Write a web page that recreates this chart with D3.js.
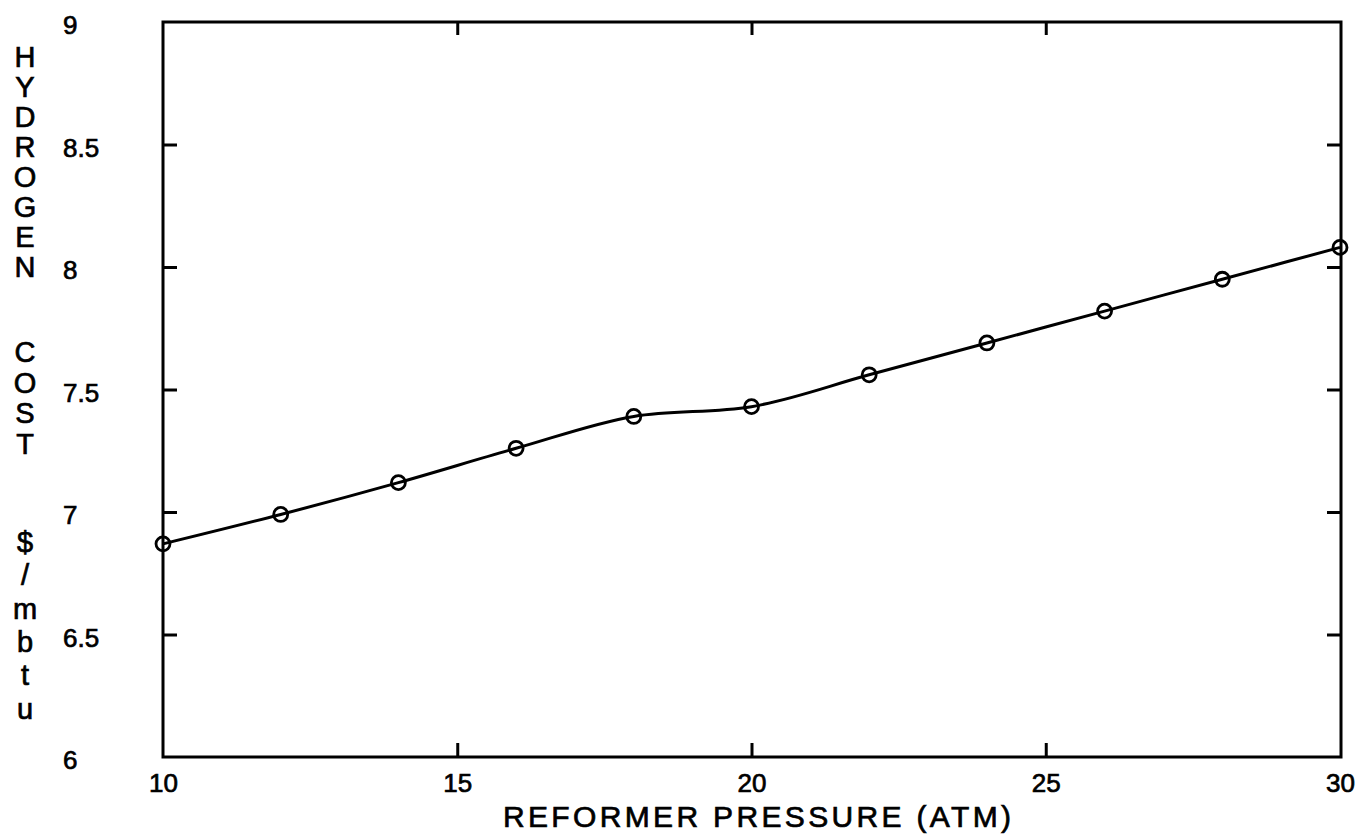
<!DOCTYPE html>
<html>
<head>
<meta charset="utf-8">
<title>hydrogen cost vs reformer pressure</title>
<script src="https://d3js.org/d3.v7.min.js"></script>
<style>
  body { margin:0; background:#fff; }
  svg { display:block; font-family:"Liberation Sans", Arial, sans-serif; }
  .axis path { display:none; }
  .axis line { stroke:#000; stroke-width:3; }
  .axis text { fill:#000; font-size:26px; stroke:#000; stroke-width:0.7; }
  .lbl { fill:#000; stroke:#000; stroke-width:0.7; }
</style>
</head>
<body>
<svg width="1357" height="837"></svg>
<script>
// values
const pressure = [10, 12, 14, 16, 18, 20, 22, 24, 26, 28, 30];
const cost     = [6.87, 6.99, 7.12, 7.26, 7.39, 7.43, 7.56, 7.69, 7.82, 7.95, 8.08];
const xTicks   = [10, 15, 20, 25, 30];
const yTicks   = [6, 6.5, 7, 7.5, 8, 8.5, 9];
const xTitle   = "REFORMER PRESSURE  (ATM)";
const yWords   = ["HYDROGEN", "COST", "$/mbtu"];

const svg = d3.select("svg");
const L = 163, R = 1340, T = 22, B = 757;

const x = d3.scaleLinear().domain([10, 30]).range([L, R]);
const y = d3.scaleLinear().domain([6, 9]).range([B, T]);
const fmt = d3.format("~g");

// frame
svg.append("rect")
  .attr("x", L).attr("y", T).attr("width", R - L + 1).attr("height", B - T)
  .attr("fill", "none").attr("stroke", "#000").attr("stroke-width", 3);

// bottom axis (ticks inward, labels below)
const gx = svg.append("g").attr("class", "axis").attr("transform", `translate(0,${B})`)
  .call(d3.axisBottom(x).tickValues(xTicks).tickSizeInner(-14).tickSizeOuter(0).tickFormat(fmt));
gx.selectAll("text").attr("y", 26).attr("dy", "0.35em");
gx.selectAll(".tick").filter(d => d === 10 || d === 30).select("line").remove();

// top axis, ticks only
svg.append("g").attr("class", "axis").attr("transform", `translate(0,${T})`)
  .call(d3.axisTop(x).tickValues(xTicks.slice(1, -1)).tickSizeInner(-13).tickSizeOuter(0).tickFormat(""));

// left axis, labels far to the left
const gy = svg.append("g").attr("class", "axis").attr("transform", `translate(${L},0)`)
  .call(d3.axisLeft(y).tickValues(yTicks).tickSizeInner(-14).tickSizeOuter(0).tickFormat(fmt));
gy.selectAll("text").attr("x", 63 - L).attr("dy", "0.45em").attr("text-anchor", "start");
gy.selectAll(".tick").filter(d => d === 6 || d === 9).select("line").remove();

// right axis, ticks only
svg.append("g").attr("class", "axis").attr("transform", `translate(${R + 1},0)`)
  .call(d3.axisRight(y).tickValues(yTicks.slice(1, -1)).tickSizeInner(-14).tickSizeOuter(0).tickFormat(""));

// curve
const pts = pressure.map((p, i) => [p, cost[i]]);
svg.append("path").datum(pts)
  .attr("fill", "none").attr("stroke", "#000").attr("stroke-width", 3)
  .attr("d", d3.line().x(d => x(d[0])).y(d => y(d[1])).curve(d3.curveMonotoneX));

svg.selectAll("circle.pt").data(pts).join("circle").attr("class", "pt")
  .attr("cx", d => x(d[0])).attr("cy", d => y(d[1])).attr("r", 7)
  .attr("fill", "none").attr("stroke", "#000").attr("stroke-width", 2.8);

// x title
svg.append("text").attr("class", "lbl").attr("x", 757).attr("y", 827)
  .attr("text-anchor", "middle").attr("font-size", 30)
  .attr("textLength", 508).attr("lengthAdjust", "spacing")
  .text(xTitle);

// y title: letters stacked vertically
const wordStart = [67, 362, 552], wordStep = [30, 30.5, 33.3];
yWords.forEach((w, k) => {
  svg.append("g").selectAll("text").data(w.split("")).join("text")
    .attr("class", "lbl")
    .attr("x", 25).attr("y", (c, i) => wordStart[k] + i * wordStep[k])
    .attr("text-anchor", "middle").attr("font-size", 29)
    .text(c => c);
});
</script>
</body>
</html>
